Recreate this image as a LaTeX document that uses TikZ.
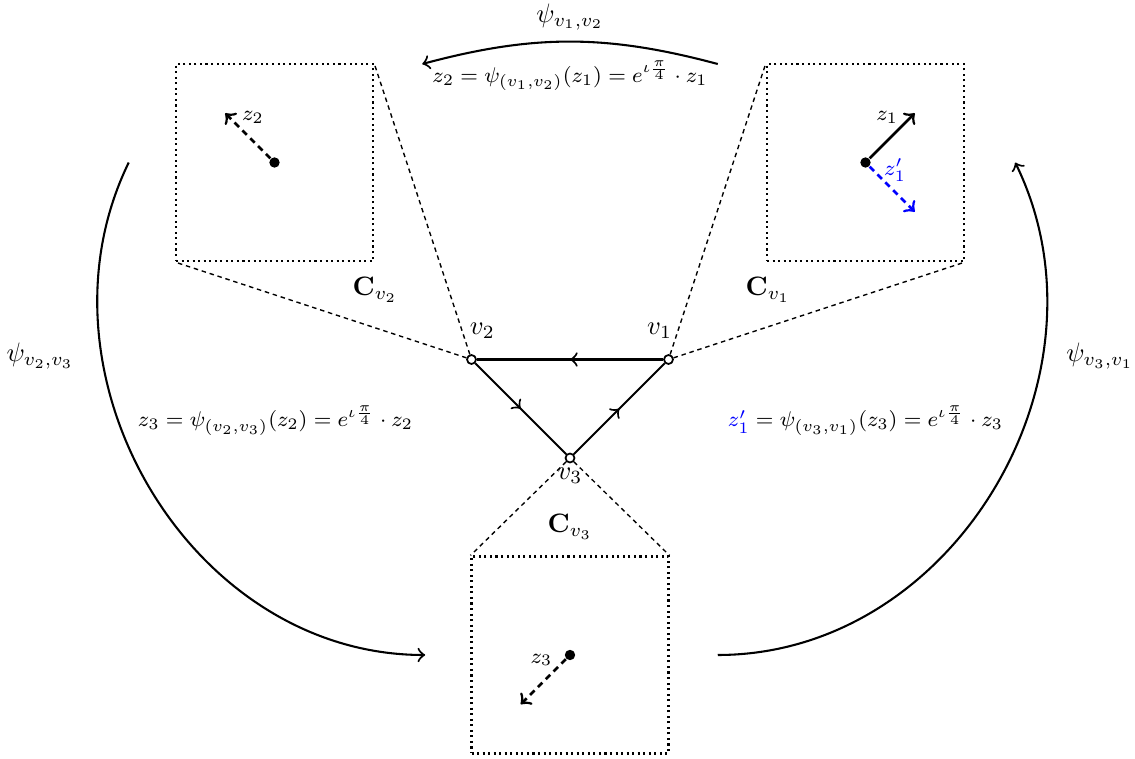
\documentclass[tikz,border=0pt]{standalone}
\usepackage{amsmath,amssymb,amsfonts}
\usepackage{tikz}
\usetikzlibrary{arrows,positioning,calc,decorations.markings}
\usepackage{xcolor}
\tikzset{
    vert/.style={circle, draw, fill=white, inner sep=0pt, minimum size=2.6pt, line width=0.5pt},
    base/.style={circle, fill=black, inner sep=0pt, minimum size=3pt},
    chart/.style={draw, densely dotted, line width=0.6pt, minimum size=2cm, inner sep=0pt},
    tri/.style={semithick, postaction={decorate},
        decoration={markings, mark=at position 0.5 with {\arrow{>}}}},
    finedash/.style={dash pattern=on 1.3pt off 1.1pt},
    vecdash/.style={dash pattern=on 1.8pt off 1.4pt},
    cone/.style={finedash, thin},
    map/.style={semithick, ->},
    vec/.style={thick, ->},
    lab/.style={scale=0.77},
    vlab/.style={lab, inner sep=1pt},
    zlab/.style={lab, font=\footnotesize},
    eqlab/.style={lab, font=\footnotesize},
}

\begin{document}
\begin{tikzpicture}
    \useasboundingbox (-5.787,-3.046) rectangle (5.736,4.65);

    % Triangle
    \node[vert] (v1) at (1,1) {};
    \node[vert] (v2) at (-1,1) {};
    \node[vert] (v3) at (0,0) {};
    \node[vlab] (lv2) at (-0.89,1.29) {$v_2$};
    \node[vlab] (lv1) at (0.91,1.29) {$v_1$};
    \node[vlab] (lv3) at (0,-0.18) {$v_3$};
    \draw[tri] (v1) -- (v2);
    \draw[tri] (v2) -- (v3);
    \draw[tri] (v3) -- (v1);

    % Charts
    \node[chart] (C2) at (-3,3) {};
    \node[chart] (C1) at (3,3) {};
    \node[chart] (C3) at (0,-2) {};
    \node[lab] (lC2) at (-1.98,1.71) {$\mathbf{C}_{v_2}$};
    \node[lab] (lC1) at (2.01,1.71) {$\mathbf{C}_{v_1}$};
    \node[lab] (lC3) at (0,-0.70) {$\mathbf{C}_{v_3}$};
    \draw[cone] (v2) -- (C2.north east);
    \draw[cone] (v2) -- (C2.south west);
    \draw[cone] (v1) -- (C1.north west);
    \draw[cone] (v1) -- (C1.south east);
    \draw[cone] (v3) -- (C3.north west);
    \draw[cone] (v3) -- (C3.north east);

    % Vectors in the charts
    \node[base] (p1) at (C1.center) {};
    \node[base] (p2) at (C2.center) {};
    \node[base] (p3) at (C3.center) {};
    \coordinate (q1) at ($(p1)+(0.5,0.5)$);
    \coordinate (r1) at ($(p1)+(0.5,-0.5)$);
    \coordinate (q2) at ($(p2)+(-0.5,0.5)$);
    \coordinate (q3) at ($(p3)+(-0.5,-0.5)$);
    \draw[vec] (p1) -- (q1);
    \draw[vec, vecdash, blue] (p1) -- (r1);
    \draw[vec, vecdash] (p2) -- (q2);
    \draw[vec, vecdash] (p3) -- (q3);
    \node[zlab] (lz1) at (3.22,3.46) {$z_1$};
    \node[zlab, text=blue] (lz1p) at (3.30,2.92) {$z_1'$};
    \node[zlab] (lz2) at (-3.22,3.46) {$z_2$};
    \node[zlab] (lz3) at (-0.29,-2.05) {$z_3$};

    % Transition maps
    \coordinate (a12) at (1.5,4);
    \coordinate (b12) at (-1.5,4);
    \coordinate (a23) at (-4.48,3);
    \coordinate (b23) at (-1.47,-2);
    \coordinate (a31) at (1.5,-2);
    \coordinate (b31) at (4.52,3);
    \draw[map] (a12) to[bend right=15] (b12);
    \draw[map] (a23) to[out=-116, in=180, looseness=1.05] (b23);
    \draw[map] (a31) to[out=0, in=-64, looseness=1.05] (b31);

    \node[lab] (psi12) at (0,4.48) {$\psi_{v_1,v_2}$};
    \node[lab] (psi23) at (-5.38,1.03) {$\psi_{v_2,v_3}$};
    \node[lab] (psi31) at (5.38,1.03) {$\psi_{v_3,v_1}$};
    \node[eqlab] (eq12) at (0,3.88) {$z_2 = \psi_{(v_1,v_2)}(z_1) = e^{\iota\frac{\pi}{4}}\cdot z_1$};
    \node[eqlab] (eq23) at (-2.99,0.38) {$z_3 = \psi_{(v_2,v_3)}(z_2) = e^{\iota\frac{\pi}{4}}\cdot z_2$};
    \node[eqlab] (eq31) at (3,0.38) {$\textcolor{blue}{z_1'} = \psi_{(v_3,v_1)}(z_3) = e^{\iota\frac{\pi}{4}}\cdot z_3$};
\end{tikzpicture}
\end{document}
